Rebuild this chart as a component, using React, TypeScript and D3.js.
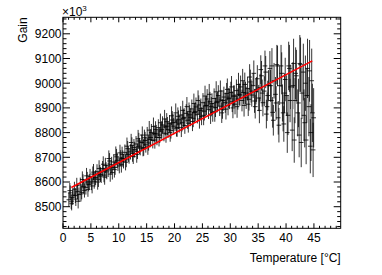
import React, { useEffect, useRef } from 'react'
import * as d3 from 'd3'

const width = 382
const height = 275
const frame = { left: 63, top: 17.3, right: 340.7, bottom: 228.3 }
const fontFamily = 'Liberation Sans, Arial, Helvetica, sans-serif'

// measured temperature [°C]
const temperature = [
	1.05, 1.3, 1.55, 1.8, 2.05, 2.3, 2.6, 2.85, 3.1, 3.35, 3.6, 3.85,
	4.1, 4.35, 4.6, 4.85, 5.1, 5.35, 5.6, 5.85, 6.1, 6.35, 6.6, 6.85,
	7.1, 7.35, 7.6, 7.85, 8.1, 8.35, 8.6, 8.85, 9.1, 9.35, 9.6, 9.85,
	10.1, 10.35, 10.6, 10.85, 11.1, 11.35, 11.6, 11.85, 12.1, 12.35, 12.6, 12.85,
	13.1, 13.35, 13.6, 13.85, 14.1, 14.35, 14.6, 14.85, 15.1, 15.35, 15.6, 15.85,
	16.1, 16.35, 16.6, 16.85, 17.1, 17.35, 17.6, 17.85, 18.1, 18.35, 18.6, 18.85,
	19.1, 19.35, 19.6, 19.85, 20.1, 20.35, 20.6, 20.85, 21.1, 21.35, 21.6, 21.85,
	22.1, 22.35, 22.6, 22.85, 23.1, 23.35, 23.6, 23.85, 24.1, 24.35, 24.6, 24.85,
	25.1, 25.35, 25.6, 25.85, 26.1, 26.35, 26.6, 26.85, 27.1, 27.35, 27.6, 27.85,
	28.1, 28.35, 28.6, 28.85, 29.1, 29.35, 29.6, 29.85, 30.1, 30.35, 30.6, 30.85,
	31.1, 31.35, 31.6, 31.85, 32.1, 32.35, 32.6, 32.85, 33.1, 33.35, 33.6, 33.85,
	34.1, 34.35, 34.6, 34.85, 35.1, 35.35, 35.6, 35.85, 36.1, 36.35, 36.6, 36.85,
	37.1, 37.35, 37.6, 37.85, 38.1, 38.35, 38.6, 38.85, 39.1, 39.35, 39.6, 39.85,
	40.1, 40.35, 40.6, 40.85, 41.1, 41.35, 41.6, 41.85, 42.1, 42.35, 42.6, 42.85,
	43.1, 43.35, 43.6, 43.85, 44.1, 44.35, 44.6, 44.85, 44.95,
	// second run
	1.22, 1.47, 1.72, 2.22, 2.47, 2.72, 3.22, 3.47, 3.72, 4.22, 4.47, 4.72,
	5.22, 5.47, 5.72, 6.22, 6.47, 6.72, 7.22, 7.47, 7.72, 8.22, 8.47, 8.72,
	9.22, 9.47, 9.72, 10.22, 10.47, 10.72, 11.22, 11.47, 11.72, 12.22, 12.47, 12.72,
	13.22, 13.47, 13.72, 14.22, 14.47, 14.72, 15.22, 15.47, 15.72, 16.22, 16.47, 16.72,
	17.22, 17.47, 17.72, 18.22, 18.47, 18.72, 19.22, 19.47, 19.72, 20.22, 20.47, 20.72,
	21.22, 21.47, 21.72, 22.22, 22.47, 22.72, 23.22, 23.47, 23.72, 24.22, 24.47, 24.72,
	25.22, 25.47, 25.72, 26.22, 26.47, 26.72, 27.22, 27.47, 27.72, 28.22, 28.47, 28.72,
	29.22, 29.47, 29.72, 30.22, 30.47, 30.72, 31.22, 31.47, 31.72, 32.22, 32.47, 32.72,
	33.22, 33.47, 33.72, 34.22, 34.47, 34.72, 35.22, 35.47, 35.72, 36.22, 36.47, 36.72,
	37.22, 37.47, 37.72, 38.22, 38.47, 38.72, 39.22, 39.47, 39.72, 40.22, 40.47, 40.72,
	41.22, 41.47, 41.72, 42.22, 42.47, 42.72, 43.22, 43.47, 43.72, 44.22, 44.47, 44.72,
]

// gain (x10^3)
const gain = [
	8528, 8556, 8512, 8547, 8571, 8531, 8562, 8549, 8588, 8558, 8600, 8566,
	8578, 8611, 8590, 8622, 8596, 8632, 8601, 8618, 8642, 8609, 8638, 8624,
	8655, 8628, 8667, 8641, 8649, 8685, 8660, 8638, 8681, 8659, 8702, 8674,
	8665, 8697, 8712, 8684, 8720, 8690, 8735, 8704, 8722, 8748, 8703, 8731,
	8754, 8724, 8766, 8738, 8760, 8735, 8779, 8751, 8790, 8758, 8772, 8801,
	8768, 8796, 8812, 8781, 8820, 8790, 8806, 8831, 8798, 8823, 8844, 8812,
	8836, 8809, 8851, 8826, 8842, 8818, 8866, 8835, 8871, 8840, 8858, 8829,
	8878, 8850, 8885, 8862, 8896, 8858, 8881, 8904, 8874, 8912, 8890, 8866,
	8921, 8887, 8908, 8936, 8893, 8925, 8905, 8882, 8938, 8902, 8921, 8950,
	8907, 8932, 8895, 8944, 8921, 8958, 8910, 8937, 8962, 8925, 8948, 8915,
	8970, 8936, 8955, 8985, 8930, 8962, 8995, 8941, 8978, 8935, 9005, 8952,
	8990, 8928, 8966, 9018, 8940, 8982, 9030, 8921, 8968, 9045, 8905, 8990,
	9060, 8930, 8882, 9010, 8955, 9075, 8860, 8990, 9070, 8920, 8835, 9015,
	8950, 8870, 9060, 8985, 8810, 9080, 8930, 9030, 8880, 8790, 9075, 8960,
	9045, 8840, 8770, 9060, 8905, 8745, 9010, 8730, 8860,
	// second run
	8565, 8520, 8538, 8545, 8585, 8522, 8552, 8610, 8581, 8625, 8570, 8601,
	8584, 8640, 8612, 8600, 8655, 8630, 8672, 8620, 8648, 8695, 8632, 8670,
	8650, 8710, 8688, 8718, 8670, 8695, 8680, 8745, 8712, 8760, 8715, 8740,
	8712, 8775, 8745, 8790, 8740, 8768, 8745, 8810, 8780, 8825, 8770, 8795,
	8780, 8840, 8812, 8855, 8795, 8826, 8800, 8868, 8840, 8880, 8820, 8852,
	8820, 8890, 8862, 8905, 8838, 8872, 8845, 8918, 8885, 8930, 8855, 8898,
	8870, 8948, 8910, 8955, 8875, 8918, 8885, 8965, 8925, 8968, 8880, 8930,
	8895, 8975, 8940, 8985, 8900, 8948, 8905, 8995, 8952, 9010, 8910, 8960,
	8915, 9025, 8968, 9040, 8905, 8975, 8890, 9055, 8960, 9070, 8875, 8950,
	8990, 9070, 8850, 8920, 9070, 8830, 9040, 8880, 8960, 8800, 9070, 8930,
	8990, 8770, 9040, 8920, 9080, 8760, 8870, 9000, 8950, 9050, 8800, 8880,
]

const gainErr = [
	28, 30, 27, 29, 30, 28, 31, 29, 30, 28, 31, 29,
	29, 30, 28, 31, 29, 31, 28, 30, 30, 29, 31, 28,
	30, 29, 31, 30, 29, 32, 30, 28, 31, 30, 32, 29,
	30, 32, 31, 29, 32, 30, 31, 30, 31, 33, 30, 32,
	32, 31, 33, 30, 32, 31, 33, 32, 33, 31, 32, 34,
	32, 33, 34, 32, 34, 32, 33, 35, 33, 34, 35, 33,
	35, 33, 36, 34, 35, 34, 36, 35, 36, 35, 36, 34,
	37, 35, 37, 36, 38, 36, 37, 38, 37, 39, 38, 36,
	39, 38, 39, 40, 38, 40, 39, 38, 41, 39, 40, 42,
	40, 41, 39, 42, 41, 43, 40, 42, 44, 42, 43, 41,
	45, 43, 44, 46, 44, 46, 48, 45, 48, 46, 50, 47,
	50, 48, 52, 55, 53, 56, 60, 55, 60, 65, 58, 63,
	70, 65, 62, 72, 70, 80, 68, 78, 85, 75, 72, 88,
	82, 80, 95, 90, 85, 100, 92, 105, 95, 90, 110, 105,
	115, 100, 98, 120, 120, 110, 130, 110, 120,
	// second run
	31, 29, 30, 30, 32, 29, 31, 33, 30, 32, 30, 31,
	30, 33, 31, 31, 33, 30, 32, 31, 32, 33, 31, 32,
	32, 34, 31, 33, 32, 33, 33, 35, 32, 35, 33, 34,
	34, 36, 33, 35, 34, 35, 35, 37, 34, 36, 35, 36,
	36, 37, 35, 37, 36, 37, 37, 38, 36, 38, 37, 38,
	38, 39, 37, 39, 38, 39, 39, 40, 38, 41, 39, 40,
	40, 42, 39, 42, 40, 41, 41, 43, 40, 43, 41, 42,
	42, 44, 41, 44, 42, 43, 45, 47, 44, 48, 45, 46,
	48, 52, 47, 52, 48, 50, 52, 58, 55, 62, 58, 60,
	65, 72, 62, 68, 82, 70, 85, 75, 80, 82, 98, 88,
	95, 92, 105, 98, 115, 100, 105, 112, 110, 125, 115, 118,
]

const tempErr = 0.42

// linear fit: gain = p0 + p1 * T
const fitP0 = 8560
const fitP1 = 11.86
const fitRange = [1.5, 44.7]

const xDomain = [0, 49.8]
const yDomain = [8412.6, 9266.8]
const xTicks = [0, 5, 10, 15, 20, 25, 30, 35, 40, 45]
const yTicks = [8500, 8600, 8700, 8800, 8900, 9000, 9100, 9200]
const xMinorStep = 1
const yMinorStep = 20


export default function App() {
	const svgRef = useRef<SVGSVGElement>(null)

	useEffect(() => {
		const root = d3.select(svgRef.current)
		root.selectAll('*').remove()

		const x = d3.scaleLinear().domain(xDomain).range([frame.left, frame.right])
		const y = d3.scaleLinear().domain(yDomain).range([frame.bottom, frame.top])

		// data points with error bars
		const points = temperature.map((t, i) => ({ t, g: gain[i], e: gainErr[i] }))
		const g = root.append('g').attr('class', 'points')
			.attr('stroke', '#000').attr('stroke-width', 1).attr('stroke-opacity', 0.8)
		points.forEach((p) => {
			g.append('line')
				.attr('x1', x(p.t)).attr('x2', x(p.t))
				.attr('y1', y(p.g - p.e)).attr('y2', y(p.g + p.e))
			g.append('line')
				.attr('x1', x(p.t - tempErr)).attr('x2', x(p.t + tempErr))
				.attr('y1', y(p.g)).attr('y2', y(p.g))
		})

		// fit line
		const fitLine = d3.line<number>()
			.x((d) => x(d))
			.y((d) => y(fitP0 + fitP1 * d))
		root.append('path')
			.attr('d', fitLine(fitRange))
			.attr('fill', 'none')
			.attr('stroke', '#ff0000')
			.attr('stroke-width', 1.5)

		// frame
		root.append('rect')
			.attr('x', frame.left).attr('y', frame.top)
			.attr('width', frame.right - frame.left)
			.attr('height', frame.bottom - frame.top)
			.attr('fill', 'none').attr('stroke', '#000').attr('stroke-width', 1)

		// ticks on all four sides, pointing inward
		const ticks = root.append('g').attr('stroke', '#000').attr('stroke-width', 1)
		const xMinor = d3.range(xDomain[0], xDomain[1], xMinorStep)
		xMinor.forEach((v) => {
			const major = xTicks.includes(v)
			const len = major ? 5 : 2.5
			ticks.append('line').attr('x1', x(v)).attr('x2', x(v))
				.attr('y1', frame.bottom).attr('y2', frame.bottom - len)
			ticks.append('line').attr('x1', x(v)).attr('x2', x(v))
				.attr('y1', frame.top).attr('y2', frame.top + len)
		})
		const yMinor = d3.range(8420, yDomain[1], yMinorStep)
		yMinor.forEach((v) => {
			const major = yTicks.includes(v)
			const len = major ? 7 : 3.5
			ticks.append('line').attr('y1', y(v)).attr('y2', y(v))
				.attr('x1', frame.left).attr('x2', frame.left + len)
			ticks.append('line').attr('y1', y(v)).attr('y2', y(v))
				.attr('x1', frame.right).attr('x2', frame.right - len)
		})

		// tick labels
		const labels = root.append('g')
			.attr('font-family', fontFamily).attr('font-size', 12).attr('fill', '#000')
		xTicks.forEach((v) => {
			labels.append('text').attr('x', x(v)).attr('y', 242)
				.attr('text-anchor', 'middle').text(v)
		})
		yTicks.forEach((v) => {
			labels.append('text').attr('x', 61.5).attr('y', y(v) + 4.3)
				.attr('text-anchor', 'end').text(v)
		})

		// exponent
		const expo = root.append('text')
			.attr('font-family', fontFamily).attr('font-size', 12)
			.attr('x', 62).attr('y', 15.5)
		expo.append('tspan').text('×10')
		expo.append('tspan').attr('font-size', 8).attr('dy', -5).text('3')

		// axis titles
		root.append('text')
			.attr('font-family', fontFamily).attr('font-size', 12)
			.attr('text-anchor', 'end')
			.attr('x', frame.right).attr('y', 262)
			.text('Temperature [°C]')
		root.append('text')
			.attr('font-family', fontFamily).attr('font-size', 12)
			.attr('text-anchor', 'end')
			.attr('transform', `translate(27, ${frame.top}) rotate(-90)`)
			.text('Gain')
	}, [])

	return (
		<svg ref={svgRef} width={width} height={height}
			style={{ position: 'absolute', left: 0, top: 0, background: '#fff' }} />
	)
}
